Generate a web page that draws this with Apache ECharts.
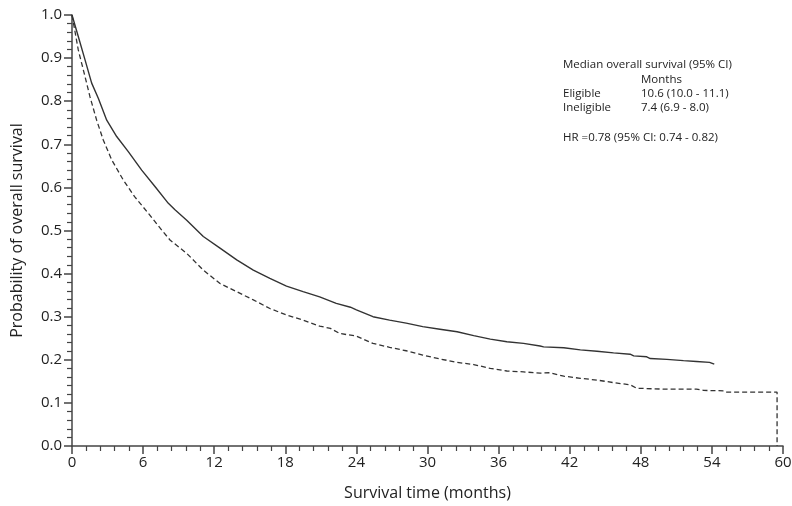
<!DOCTYPE html>
<html>
<head>
<meta charset="utf-8">
<script src="https://cdn.jsdelivr.net/npm/echarts@6/dist/echarts.min.js"></script>
<style>html,body{margin:0;padding:0;background:#fff}#c{width:792px;height:506px}</style>
</head>
<body>
<div id="c"></div>
<script>
// Eligible (solid) Kaplan-Meier estimate: [months, probability]
var eligibleTime = [0,0.53,1.1,1.66,2.22,2.93,3.77,4.75,5.88,7.0,8.13,8.69,9.68,11.08,12.49,13.9,15.3,16.7,18.1,19.5,20.9,22.3,23.5,24.0,25.4,26.8,28.2,29.6,31.05,32.5,33.9,35.3,36.7,38.1,39.5,39.8,41.5,42.9,44.3,45.7,47.1,47.4,48.5,48.8,50.2,51.6,52.7,53.8,54.2];
var eligibleSurv = [1.0,0.95,0.896,0.842,0.807,0.756,0.718,0.683,0.640,0.602,0.563,0.548,0.524,0.486,0.459,0.432,0.408,0.389,0.371,0.358,0.346,0.331,0.322,0.316,0.300,0.292,0.285,0.277,0.271,0.265,0.256,0.248,0.242,0.238,0.232,0.230,0.228,0.223,0.220,0.216,0.213,0.209,0.207,0.203,0.201,0.198,0.196,0.194,0.190];
// Ineligible (dashed)
var ineligibleTime = [0,0.1,0.53,1.1,1.52,2.08,2.64,3.35,4.33,5.3,6.44,7.57,8.27,9.68,11.08,12.49,13.9,15.3,16.7,18.1,19.5,20.9,21.8,22.6,24.0,25.4,26.8,28.2,29.6,31.05,32.5,33.9,35.3,36.7,38.1,39.5,40.3,41.5,42.9,44.3,45.7,47.1,47.65,49.9,52.7,53.3,55.0,55.2,59.5,59.5];
var ineligibleSurv = [1.0,0.985,0.919,0.857,0.810,0.756,0.710,0.664,0.617,0.578,0.540,0.501,0.478,0.447,0.408,0.377,0.358,0.339,0.319,0.304,0.292,0.278,0.273,0.261,0.255,0.238,0.229,0.221,0.211,0.202,0.194,0.189,0.180,0.174,0.172,0.169,0.170,0.162,0.157,0.153,0.147,0.142,0.134,0.132,0.132,0.129,0.128,0.125,0.125,0.0];
var xTicks = [0,6,12,18,24,30,36,42,48,54,60];
var yTicks = [0.0,0.1,0.2,0.3,0.4,0.5,0.6,0.7,0.8,0.9,1.0];
var noteLeft = ["Median overall survival (95% CI)", "", "Eligible", "Ineligible", "", "HR =0.78 (95% CI: 0.74 - 0.82)"];
var noteRight = ["", "Months", "10.6 (10.0 - 11.1)", "7.4 (6.9 - 8.0)", "", ""];

function pairs(t, s){ return t.map(function(v,i){ return [v, s[i]]; }); }

var FONT = 'Open Sans';
var chart = echarts.init(document.getElementById('c'), null, {renderer:'canvas'});
var graphics = [];
var lineY = [66, 81, 95, 109, 124, 139];
noteLeft.forEach(function(t,i){ if(t) graphics.push({type:'text', left:563, top:lineY[i]-7, style:{text:t, font:'11.5px "'+FONT+'"', fill:'#222'}}); });
noteRight.forEach(function(t,i){ if(t) graphics.push({type:'text', left:641, top:lineY[i]-7, style:{text:t, font:'11.5px "'+FONT+'"', fill:'#222'}}); });

chart.setOption({
  animation:false,
  backgroundColor:'#fff',
  grid:{left:72, right:9, top:15, bottom:60, containLabel:false, outerBoundsMode:'none'},
  xAxis:{
    type:'value', min:xTicks[0], max:xTicks[xTicks.length-1], interval:6,
    name:'Survival time (months)', nameLocation:'middle', nameGap:39,
    nameTextStyle:{fontFamily:FONT, fontSize:16, color:'#222'},
    axisLine:{show:true, onZero:false, lineStyle:{color:'#444', width:1.5}},
    axisTick:{show:true, length:8, lineStyle:{color:'#444', width:1.5}},
    minorTick:{show:true, splitNumber:5, length:5, lineStyle:{color:'#444', width:1.2}},
    axisLabel:{fontFamily:FONT, fontSize:15, color:'#222', margin:9},
    splitLine:{show:false}
  },
  yAxis:{
    type:'value', min:yTicks[0], max:yTicks[yTicks.length-1], interval:0.1,
    name:'Probability of overall survival', nameLocation:'middle', nameGap:47,
    nameTextStyle:{fontFamily:FONT, fontSize:16, color:'#222'},
    axisLine:{show:true, lineStyle:{color:'#444', width:1.5}},
    axisTick:{show:true, length:8, lineStyle:{color:'#444', width:1.5}},
    minorTick:{show:true, splitNumber:5, length:5, lineStyle:{color:'#444', width:1.2}},
    axisLabel:{fontFamily:FONT, fontSize:15, color:'#222', margin:10, formatter:function(v){return v.toFixed(1);}},
    splitLine:{show:false}
  },
  series:[
    {type:'line', name:'Eligible', data:pairs(eligibleTime, eligibleSurv), showSymbol:false, symbol:'none',
     lineStyle:{color:'#333', width:1.4, type:'solid'}},
    {type:'line', name:'Ineligible', data:pairs(ineligibleTime, ineligibleSurv), showSymbol:false, symbol:'none',
     lineStyle:{color:'#333', width:1.3, type:[5,3]}}
  ],
  graphic:graphics
});
</script>
</body>
</html>
